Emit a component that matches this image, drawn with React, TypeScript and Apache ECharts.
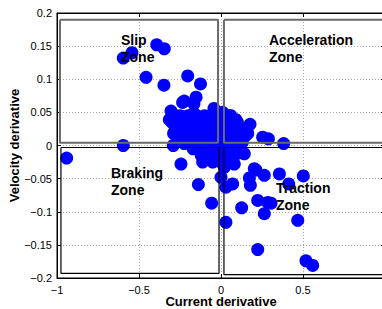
import React, { useEffect, useRef } from "react";
import * as echarts from "echarts";

const xTicks = [-1, -0.5, 0, 0.5, 1];
const yTicks = [-0.2, -0.15, -0.1, -0.05, 0, 0.05, 0.1, 0.15, 0.2];

// scattered points (current derivative, velocity derivative)
const outerPoints: [number, number][] = [
  [-0.596, 0.132], [-0.543, 0.14], [-0.392, 0.152], [-0.346, 0.146], [-0.457, 0.103],
  [-0.348, 0.091], [-0.203, 0.105], [-0.125, 0.093], [-0.224, 0.067], [-0.152, 0.073],
  [-0.305, 0.052], [-0.315, 0.039], [-0.25, 0.045], [-0.166, 0.049], [-0.289, 0.018],
  [-0.224, 0.003], [-0.291, 0.0], [-0.596, 0.0], [-0.941, -0.019],
  [0.091, 0.039], [0.177, 0.032], [0.254, 0.0125], [0.289, 0.01], [0.382, 0.003],
  [0.163, 0.018], [0.14, 0.018], [0.1, 0.035],
  [-0.244, -0.028], [-0.112, -0.025], [-0.138, -0.059], [-0.057, -0.087], [0.0, -0.048],
  [0.03, -0.063], [0.071, -0.058], [0.03, -0.116], [0.126, -0.094], [0.173, -0.049],
  [0.179, -0.06], [0.213, -0.037], [0.264, -0.045], [0.224, -0.083], [0.285, -0.086],
  [0.305, -0.087], [0.264, -0.103], [0.356, -0.043], [0.413, -0.058], [0.502, -0.046],
  [0.468, -0.113], [0.224, -0.157], [0.518, -0.174], [0.559, -0.181], [0.081, -0.028],
  [0.142, -0.0125], [0.203, -0.035], [0.061, -0.02], [0.02, -0.033],
  [-0.043, 0.056], [0.01, 0.05], [0.06, 0.045], [-0.234, 0.065], [-0.165, 0.063],
  [-0.165, 0.033], [-0.285, 0.02],
];

// dense central cluster
const clusterPoints: [number, number][] = [
  [-0.28, 0.045], [-0.2, 0.045], [-0.15, 0.045], [-0.1, 0.045], [-0.05, 0.045], [0.0, 0.045], [0.05, 0.045],
  [-0.3, 0.035], [-0.25, 0.035], [-0.2, 0.035], [-0.15, 0.035], [-0.1, 0.035], [-0.05, 0.035], [0.0, 0.035], [0.05, 0.035], [0.1, 0.03],
  [-0.27, 0.025], [-0.22, 0.025], [-0.17, 0.025], [-0.12, 0.025], [-0.07, 0.025], [-0.02, 0.025], [0.03, 0.025], [0.08, 0.025], [0.13, 0.025],
  [-0.25, 0.015], [-0.2, 0.015], [-0.15, 0.015], [-0.1, 0.015], [-0.05, 0.015], [0.0, 0.015], [0.05, 0.015], [0.1, 0.015], [0.15, 0.015],
  [-0.2, 0.005], [-0.15, 0.005], [-0.1, 0.005], [-0.05, 0.005], [0.0, 0.005], [0.05, 0.005], [0.1, 0.005], [0.13, 0.005],
  [-0.17, -0.005], [-0.12, -0.005], [-0.07, -0.005], [-0.02, -0.005], [0.03, -0.005], [0.08, -0.005], [0.12, -0.005],
  [-0.12, -0.015], [-0.08, -0.015], [-0.03, -0.015], [0.02, -0.015], [0.06, -0.012], [0.1, -0.012],
  [-0.1, -0.022], [-0.05, -0.025], [0.0, -0.025], [0.05, -0.025],
];

// zone rectangles [xMin, xMax, yMin, yMax]
const zoneTopLeft = [-0.982, -0.018, 0.004, 0.19];
const zoneTopRight = [0.018, 0.99, 0.004, 0.19];
const zoneBottomLeft = [-0.976, -0.012, -0.193, -0.003];
const zoneBottomRight = [0.018, 0.99, -0.195, -0.003];

const fmt = (v: number) => String(v).replace("-", "\u2212");

function rectData(r: number[]) {
  const [x0, x1, y0, y1] = r;
  return [[x0, y1], [x1, y1], [x1, y0], [x0, y0], [x0, y1]];
}

export default function App() {
  const ref = useRef<HTMLDivElement>(null);
  useEffect(() => {
    if (!ref.current) return;
    const chart = echarts.init(ref.current, undefined, { renderer: "svg" });
    const font = "Liberation Sans, Arial, Helvetica, sans-serif";
    const rectSeries = (r: number[], color: string, width: number) => ({
      type: "line",
      data: rectData(r),
      symbol: "none",
      silent: true,
      z: 5,
      lineStyle: { color, width },
    });
    const zoneFont = `bold 14px ${font}`;
    chart.setOption({
      animation: false,
      textStyle: { fontFamily: font },
      grid: {
        left: 57, top: 13, width: 328, height: 265, show: true, borderColor: "#000", borderWidth: 1,
        outerBoundsMode: "none", containLabel: false,
      },
      xAxis: [
        {
          type: "value", min: -1, max: 1, interval: 0.5,
          axisLine: { show: true, onZero: false, lineStyle: { color: "#000" } },
          axisTick: { inside: true, length: 4, lineStyle: { color: "#000" } },
          axisLabel: { color: "#000", fontSize: 11, margin: 6, showMaxLabel: false, formatter: (v: number) => (v === 1 ? "" : fmt(v)) },
          splitLine: { show: true, lineStyle: { color: "#aaa", type: [1, 2], width: 1 } },
          name: "Current derivative", nameLocation: "middle", nameGap: 17, nameMoveOverlap: false,
          nameTextStyle: { color: "#000", fontWeight: "bold", fontSize: 13, fontFamily: font },
        },
        {
          type: "value", min: -1, max: 1, interval: 0.5, position: "top",
          axisLine: { show: true, onZero: false, lineStyle: { color: "#000" } },
          axisTick: { inside: true, length: 4, lineStyle: { color: "#000" } },
          axisLabel: { show: false }, splitLine: { show: false },
        },
      ],
      yAxis: [
        {
          type: "value", min: -0.2, max: 0.2, interval: 0.05,
          axisLine: { show: true, onZero: false, lineStyle: { color: "#000" } },
          axisTick: { inside: true, length: 4, lineStyle: { color: "#000" } },
          axisLabel: { color: "#000", fontSize: 11, margin: 5, formatter: (v: number) => fmt(Math.round(v * 100) / 100) },
          splitLine: { show: true, lineStyle: { color: "#aaa", type: [1, 2], width: 1 } },
          name: "Velocity derivative", nameLocation: "middle", nameGap: 36, nameMoveOverlap: false,
          nameTextStyle: { color: "#000", fontWeight: "bold", fontSize: 13, fontFamily: font },
        },
        {
          type: "value", min: -0.2, max: 0.2, interval: 0.05, position: "right",
          axisLine: { show: true, onZero: false, lineStyle: { color: "#000" } },
          axisTick: { inside: true, length: 4 }, axisLabel: { show: false }, splitLine: { show: false },
        },
      ],
      series: [
        {
          type: "scatter", symbol: "circle", symbolSize: 13, z: 2,
          itemStyle: { color: "#0000ff", opacity: 1 },
          data: [...clusterPoints, ...outerPoints],
        },
        rectSeries(zoneTopLeft, "#6a6a6a", 2),
        rectSeries(zoneTopRight, "#6a6a6a", 2),
        rectSeries(zoneBottomLeft, "#000", 1.2),
        rectSeries(zoneBottomRight, "#000", 1.2),
      ],
      graphic: [
        { type: "text", left: 121, top: 31, z: 10, style: { text: "Slip\nZone", font: zoneFont, fill: "#000", lineHeight: 17 } },
        { type: "text", left: 269, top: 31, z: 10, style: { text: "Acceleration\nZone", font: zoneFont, fill: "#000", lineHeight: 17 } },
        { type: "text", left: 111, top: 164, z: 10, style: { text: "Braking\nZone", font: zoneFont, fill: "#000", lineHeight: 17 } },
        { type: "text", left: 276, top: 179, z: 10, style: { text: "Traction\nZone", font: zoneFont, fill: "#000", lineHeight: 17 } },
      ],
    });
    return () => chart.dispose();
  }, []);
  return <div ref={ref} style={{ position: "absolute", left: 0, top: 0, width: 390, height: 309 }} />;
}
